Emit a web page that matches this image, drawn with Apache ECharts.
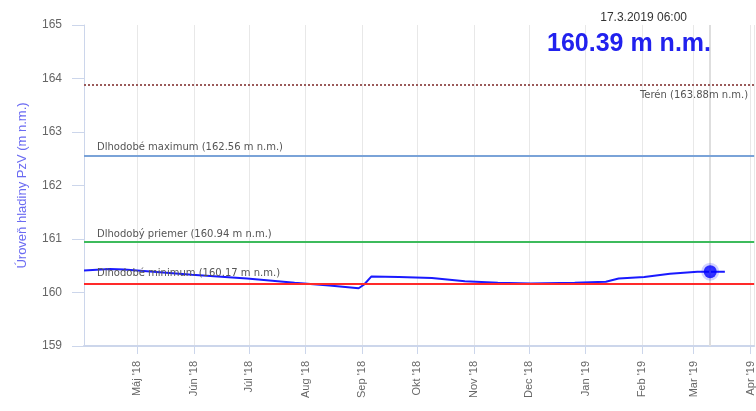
<!DOCTYPE html>
<html>
<head>
<meta charset="utf-8">
<script src="https://cdn.jsdelivr.net/npm/echarts@6/dist/echarts.min.js"></script>
<style>
html, body { margin: 0; padding: 0; background: #fff; }
#chart { width: 756px; height: 411px; }
</style>
</head>
<body>
<div id="chart"></div>
<script>
// hladina PzV - hodnoty odcitane z grafu
var dates = [
    "2018-04-02", "2018-04-16", "2018-04-24", "2018-05-31", "2018-06-30",
    "2018-07-26", "2018-08-14", "2018-08-30", "2018-09-02", "2018-09-06",
    "2018-09-21", "2018-10-09", "2018-10-27", "2018-11-14", "2018-12-02",
    "2018-12-26", "2019-01-12", "2019-01-19", "2019-02-02", "2019-02-16",
    "2019-03-03", "2019-03-10", "2019-03-18"
];
var levels = [
    160.41, 160.44, 160.43, 160.33, 160.26,
    160.18, 160.13, 160.08, 160.15, 160.30,
    160.29, 160.27, 160.21, 160.18, 160.17,
    160.18, 160.20, 160.26, 160.29, 160.35,
    160.39, 160.39, 160.39
];
var currentPoint = ["2019-03-10", 160.39];
var refNames = ["Terén", "Dlhodobé maximum", "Dlhodobý priemer", "Dlhodobé minimum"];
var refValues = [163.88, 162.56, 160.94, 160.17];
var monthNames = ["Jan", "Feb", "Mar", "Apr", "Máj", "Jún", "Júl", "Aug", "Sep", "Okt", "Nov", "Dec"];
var yTicks = [159, 165, 1];

var chart = echarts.init(document.getElementById("chart"));
var labelFont = "DejaVu Sans";

var seriesData = [];
for (var i = 0; i < dates.length; i++) {
    seriesData.push([dates[i], levels[i]]);
}

var refLines = [
    {
        yAxis: refValues[0],
        lineStyle: { color: "#9a5a5a", type: "dotted", width: 2 },
        label: {
            position: "insideEndBottom",
            distance: [6, 5],
            formatter: refNames[0] + " (" + refValues[0].toFixed(2) + "m n.m.)"
        }
    },
    {
        yAxis: refValues[1],
        lineStyle: { color: "#7aa3d8", type: "solid", width: 2 },
        label: {
            position: "insideStartTop",
            distance: [13, 3],
            formatter: refNames[1] + " (" + refValues[1].toFixed(2) + " m n.m.)"
        }
    },
    {
        yAxis: refValues[2],
        lineStyle: { color: "#3dbb5c", type: "solid", width: 2 },
        label: {
            position: "insideStartTop",
            distance: [13, 3],
            formatter: refNames[2] + " (" + refValues[2].toFixed(2) + " m n.m.)"
        }
    },
    {
        yAxis: refValues[3],
        lineStyle: { color: "#ff2a2a", type: "solid", width: 2 },
        label: {
            position: "insideStartTop",
            distance: [13, 5],
            formatter: refNames[3] + " (" + refValues[3].toFixed(2) + " m n.m.)"
        }
    }
];

var option = {
    animation: false,
    title: [
        {
            text: "17.3.2019 06:00",
            right: 64,
            top: 7,
            textStyle: { fontSize: 12, fontWeight: "normal", color: "#333", fontFamily: "Liberation Sans" }
        },
        {
            text: levels[levels.length - 1].toFixed(2) + " m n.m.",
            right: 40,
            top: 27,
            textStyle: { fontSize: 25, fontWeight: "bold", color: "#2121ee", fontFamily: "Liberation Sans" }
        }
    ],
    grid: {
        left: 84,
        right: 0,
        top: 25,
        bottom: 65
    },
    xAxis: {
        type: "time",
        min: "2018-04-02",
        max: "2019-04-03",
        splitNumber: 12,
        minInterval: 28 * 86400000,
        maxInterval: 31 * 86400000,
        axisLine: { lineStyle: { color: "#ccd6eb", width: 2 } },
        axisTick: { show: true, length: 8, lineStyle: { color: "#ccd6eb" } },
        splitLine: { show: true, lineStyle: { color: "#e8e8e8", width: 1 } },
        axisLabel: {
            rotate: 90,
            margin: 15,
            fontSize: 11,
            color: "#666",
            fontFamily: "Liberation Sans",
            hideOverlap: false,
            formatter: function(value) {
                var d = new Date(value);
                return monthNames[d.getMonth()] + " '" + String(d.getFullYear()).slice(2);
            }
        }
    },
    yAxis: {
        type: "value",
        min: yTicks[0],
        max: yTicks[1],
        interval: yTicks[2],
        name: "Úroveň hladiny PzV (m n.m.)",
        nameLocation: "middle",
        nameGap: 55,
        nameTextStyle: { color: "#6b6bf2", fontSize: 13, fontFamily: "Liberation Sans" },
        axisLine: { show: true, lineStyle: { color: "#ccd6eb", width: 1 } },
        axisTick: { show: true, length: 12, lineStyle: { color: "#ccd6eb" } },
        splitLine: { show: false },
        axisLabel: { margin: 22, fontSize: 12, color: "#666", fontFamily: "Liberation Sans" }
    },
    series: [
        {
            // zvislá čiara aktuálneho merania pod ostatnými prvkami
            type: "line",
            data: [],
            z: 1,
            markLine: {
                silent: true,
                symbol: ["none", "none"],
                label: { show: false },
                lineStyle: { color: "#dedede", type: "solid", width: 2 },
                data: [{ xAxis: currentPoint[0] }]
            }
        },
        {
            type: "line",
            data: seriesData,
            showSymbol: false,
            symbol: "none",
            lineStyle: { color: "#1a1aff", width: 2 },
            z: 3,
            markLine: {
                silent: true,
                symbol: ["none", "none"],
                label: { fontSize: 10, color: "#555", fontFamily: labelFont },
                data: refLines
            }
        },
        {
            type: "scatter",
            data: [currentPoint],
            symbolSize: 13,
            itemStyle: {
                color: "#0000ff",
                borderColor: "rgba(0, 0, 255, 0.22)",
                borderWidth: 5
            },
            z: 10
        }
    ]
};
chart.setOption(option, true);
window.onresize = function() {
    chart.resize();
};
</script>
</body>
</html>
